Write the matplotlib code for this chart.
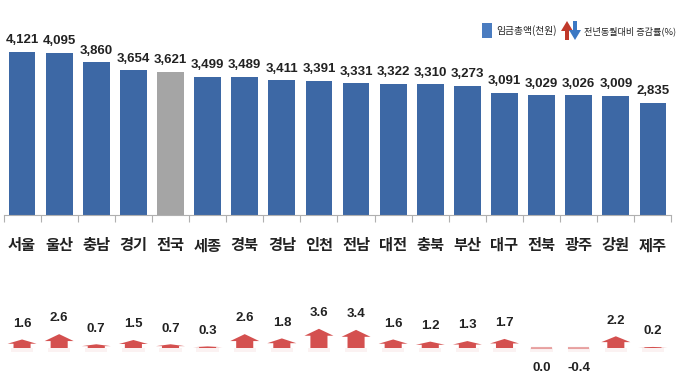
import matplotlib
matplotlib.use('Agg')
import matplotlib.pyplot as plt
from matplotlib.patches import Polygon, Rectangle

plt.rcParams['font.family'] = ['Noto Sans CJK KR', 'DejaVu Sans']

regions = ['서울', '울산', '충남', '경기', '전국', '세종', '경북', '경남', '인천',
           '전남', '대전', '충북', '부산', '대구', '전북', '광주', '강원', '제주']
wages = [4121, 4095, 3860, 3654, 3621, 3499, 3489, 3411, 3391,
         3331, 3322, 3310, 3273, 3091, 3029, 3026, 3009, 2835]
change = [1.6, 2.6, 0.7, 1.5, 0.7, 0.3, 2.6, 1.8, 3.6,
          3.4, 1.6, 1.2, 1.3, 1.7, 0.0, -0.4, 2.2, 0.2]

BLUE = '#3d68a5'
GRAY = '#a5a5a5'
RED = '#d4504f'
NUMFONT = ['Liberation Sans', 'DejaVu Sans']
W, H = 680, 380

fig = plt.figure(figsize=(6.8, 3.8), dpi=100)

# top: wage bars
ax = fig.add_axes([3.5 / W, 1 - 215 / H, 668 / W, 195 / H])
x = list(range(len(regions)))
colors = [GRAY if r == '전국' else BLUE for r in regions]
ax.bar(x, wages, width=0.72, color=colors)
ax.set_xlim(-0.5, len(regions) - 0.5)
ax.set_ylim(0, 4930)
for i, v in enumerate(wages):
    ax.annotate(f'{v:,}', (i, v), xytext=(0, 4), textcoords='offset points',
                ha='center', va='bottom', fontsize=9.5, fontweight='bold',
                color='#222222', family=NUMFONT)
for s in ['top', 'right', 'left']:
    ax.spines[s].set_visible(False)
ax.spines['bottom'].set_color('#b0b0b0')
ax.set_yticks([])
ax.set_xticks([i - 0.5 for i in range(len(regions) + 1)])
ax.set_xticklabels([])
ax.tick_params(axis='x', length=5, color='#b0b0b0')
for i, r in enumerate(regions):
    ax.text(i, -0.155, r, transform=ax.get_xaxis_transform(), ha='center',
            va='center', fontsize=11, fontweight='bold', color='#222222')

# bottom: change arrows
ax2 = fig.add_axes([3.5 / W, 0, 668 / W, 80 / H])
ax2.set_xlim(-0.5, len(regions) - 0.5)
ax2.set_ylim(-6, 9)
ax2.axis('off')
for i, v in enumerate(change):
    # faint shadow under the arrow
    ax2.add_patch(Rectangle((i - 0.3, -0.8), 0.6, 0.8, color=RED,
                            alpha=0.07, lw=0))
    if v > 0:
        hl = min(0.5 * v, 1.3)
        hw, bw = 0.39, 0.23
        pts = [(i - bw, 0), (i - bw, v - hl), (i - hw, v - hl), (i, v),
               (i + hw, v - hl), (i + bw, v - hl), (i + bw, 0)]
        ax2.add_patch(Polygon(pts, closed=True, color=RED, lw=0))
        ax2.annotate(f'{v:.1f}', (i, v), xytext=(0, 7), textcoords='offset points',
                     ha='center', va='bottom', fontsize=9.5, fontweight='bold',
                     color='#222222', family=NUMFONT)
    else:
        ax2.plot([i - 0.25, i + 0.25], [0, 0], color=RED, alpha=0.5, lw=1.5)
        ax2.annotate(f'{v:.1f}', (i, 0), xytext=(0, -10), textcoords='offset points',
                     ha='center', va='top', fontsize=9.5, fontweight='bold',
                     color='#222222', family=NUMFONT)

# legend
fig.patches.append(Rectangle((482 / W, 1 - 38 / H), 10 / W, 15 / H,
                             transform=fig.transFigure, color='#4a7cc0', lw=0))
fig.text(496 / W, 1 - 31 / H, '임금총액(천원)', fontsize=7, va='center',
         color='#222222')
up = [(565, 40), (565, 31), (561, 31), (567, 21), (573, 31), (569, 31), (569, 40)]
dn = [(573, 21), (573, 30), (569, 30), (575, 40), (581, 30), (577, 30), (577, 21)]
fig.patches.append(Polygon([(px / W, 1 - py / H) for px, py in up], closed=True,
                           transform=fig.transFigure, color='#c0392b', lw=0))
fig.patches.append(Polygon([(px / W, 1 - py / H) for px, py in dn], closed=True,
                           transform=fig.transFigure, color='#3b78c4', lw=0))
fig.text(584 / W, 1 - 31 / H, '전년동월대비 증감률(%)', fontsize=6.6, va='center',
         color='#222222')

fig.savefig('out.png', dpi=100)
